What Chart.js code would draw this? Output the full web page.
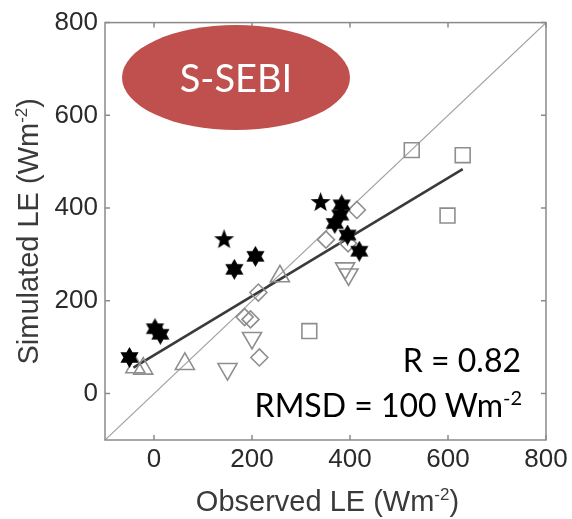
<!DOCTYPE html>
<html>
<head>
<meta charset="utf-8">
<script src="https://cdn.jsdelivr.net/npm/chart.js@4.4.0/dist/chart.umd.min.js"></script>
<style>
html, body { margin: 0; padding: 0; background: #fff; }
#wrap { width: 572px; height: 519px; }
</style>
</head>
<body>
<div id="wrap"><canvas id="ScatterChart"></canvas></div>
<script>
var xTicks = [0, 200, 400, 600, 800];
var yTicks = [0, 200, 400, 600, 800];

// 1:1 line and fitted line
var identityX = [-100, 800];
var identityY = [-100, 800];
var fitX = [-42, 630];
var fitY = [56, 484];

// markers
var hexX = [-50, 2, 13, 164, 207, 383, 380, 369, 395, 419];
var hexY = [78, 140, 128, 268, 296, 407, 385, 367, 342, 307];
var pentX = [143, 340];
var pentY = [332, 412];
var triUpX = [-38, -22, 63, 257];
var triUpY = [57, 54, 64, 253];
var triDownX = [150, 200, 390, 397];
var triDownY = [53, 120, 270, 257];
var diamondX = [185, 197, 215, 213, 351, 396, 414];
var diamondY = [165, 160, 78, 218, 332, 324, 396];
var squareX = [317, 526, 599, 630];
var squareY = [135, 525, 384, 514];

function pts(xs, ys) {
    return xs.map(function (x, i) { return {x: x, y: ys[i]}; });
}

function starImage(n, size, inner) {
    var c = document.createElement('canvas');
    c.width = size;
    c.height = size;
    var g = c.getContext('2d');
    var r = size / 2;
    g.beginPath();
    for (var i = 0; i < n * 2; i++) {
        var a = -Math.PI / 2 + i * Math.PI / n;
        var rr = (i % 2 == 0) ? r : r * inner;
        g.lineTo(r + rr * Math.cos(a), r + rr * Math.sin(a));
    }
    g.closePath();
    g.fillStyle = '#000';
    g.fill();
    return c;
}

var hexStar = starImage(6, 21, 0.577);
var pentStar = starImage(5, 21, 0.42);

var grey = '#8e8e8e';

var data = {
    datasets: [
        {type: 'line', data: pts(identityX, identityY), borderColor: '#a2a2a2', borderWidth: 1.2, pointRadius: 0, order: 10},
        {type: 'line', data: pts(fitX, fitY), borderColor: '#3a3a3a', borderWidth: 2.6, pointRadius: 0, order: 9},
        {data: pts(triUpX, triUpY), pointStyle: 'triangle', pointRadius: 11, borderColor: grey, borderWidth: 1.6, backgroundColor: 'rgba(0,0,0,0)', order: 5},
        {data: pts(triDownX, triDownY), pointStyle: 'triangle', rotation: 180, pointRadius: 11, borderColor: grey, borderWidth: 1.6, backgroundColor: 'rgba(0,0,0,0)', order: 5},
        {data: pts(diamondX, diamondY), pointStyle: 'rectRot', pointRadius: 8.5, borderColor: grey, borderWidth: 1.6, backgroundColor: 'rgba(0,0,0,0)', order: 4},
        {data: pts(squareX, squareY), pointStyle: 'rect', pointRadius: 10.5, borderColor: grey, borderWidth: 1.6, backgroundColor: 'rgba(0,0,0,0)', order: 4},
        {data: pts(hexX, hexY), pointStyle: hexStar, order: 1},
        {data: pts(pentX, pentY), pointStyle: pentStar, order: 1}
    ]
};

function richText(ctx, parts, x, y, align) {
    var w = 0;
    parts.forEach(function (p) { ctx.font = p.font; w += ctx.measureText(p.t).width; });
    var cx = align == 'center' ? x - w / 2 : (align == 'right' ? x - w : x);
    ctx.textAlign = 'left';
    parts.forEach(function (p) {
        ctx.font = p.font;
        ctx.fillText(p.t, cx, y + (p.dy || 0));
        cx += ctx.measureText(p.t).width;
    });
}

var decorations = {
    id: 'decorations',
    afterDatasetsDraw: function (chart) {
        var ctx = chart.ctx;
        var a = chart.chartArea;
        var sx = chart.scales.x, sy = chart.scales.y;
        ctx.save();
        ctx.strokeStyle = '#8a8a8a';
        ctx.lineWidth = 1.5;
        ctx.strokeRect(a.left, a.top, a.right - a.left, a.bottom - a.top);
        ctx.beginPath();
        xTicks.forEach(function (v) {
            var px = sx.getPixelForValue(v);
            ctx.moveTo(px, a.bottom); ctx.lineTo(px, a.bottom - 5);
            ctx.moveTo(px, a.top); ctx.lineTo(px, a.top + 5);
        });
        yTicks.forEach(function (v) {
            var py = sy.getPixelForValue(v);
            ctx.moveTo(a.left, py); ctx.lineTo(a.left + 5, py);
            ctx.moveTo(a.right, py); ctx.lineTo(a.right - 5, py);
        });
        ctx.stroke();

        // axis titles
        ctx.fillStyle = '#3a3a3a';
        ctx.textBaseline = 'alphabetic';
        var f = '29px "Liberation Sans", Arial, sans-serif';
        var fs = '17px "Liberation Sans", Arial, sans-serif';
        richText(ctx, [{t: 'Observed LE (Wm', font: f}, {t: '-2', font: fs, dy: -11}, {t: ')', font: f}],
            (a.left + a.right) / 2 + 2, 511, 'center');
        ctx.save();
        ctx.translate(38, (a.top + a.bottom) / 2);
        ctx.rotate(-Math.PI / 2);
        richText(ctx, [{t: 'Simulated LE (Wm', font: f}, {t: '-2', font: fs, dy: -11}, {t: ')', font: f}],
            0, 0, 'center');
        ctx.restore();

        // method label
        ctx.fillStyle = '#c0504d';
        ctx.beginPath();
        ctx.ellipse(236, 77.5, 114, 52.5, 0, 0, Math.PI * 2);
        ctx.fill();
        ctx.fillStyle = '#ffffff';
        ctx.font = '38px Lato, "Open Sans", sans-serif';
        ctx.textAlign = 'center';
        ctx.fillText('S-SEBI', 236, 92);

        // statistics
        ctx.fillStyle = '#000000';
        var ff = '32px Lato, "Open Sans", sans-serif';
        var ffs = '20px Lato, "Open Sans", sans-serif';
        richText(ctx, [{t: 'R = 0.82', font: ff}], 521, 372, 'right');
        richText(ctx, [{t: 'RMSD = 100 Wm', font: ff}, {t: '-2', font: ffs, dy: -12}], 522, 417, 'right');
        ctx.restore();
    }
};

var tickFont = {family: '"Liberation Sans", Arial, sans-serif', size: 26};

var config = {
    type: 'scatter',
    data: data,
    options: {
        responsive: true,
        maintainAspectRatio: false,
        animation: false,
        devicePixelRatio: 1,
        layout: {padding: {top: 20, right: 26, left: 0, bottom: 0}},
        plugins: {legend: {display: false}, tooltip: {enabled: false}},
        scales: {
            x: {
                type: 'linear', min: -100, max: 800,
                grid: {display: false, drawTicks: false},
                border: {display: false},
                ticks: {font: tickFont, color: '#2a2a2a', padding: 4, maxRotation: 0},
                afterBuildTicks: function (s) { s.ticks = xTicks.map(function (v) { return {value: v}; }); },
                afterFit: function (s) { s.height = 79; }
            },
            y: {
                type: 'linear', min: -100, max: 800,
                grid: {display: false, drawTicks: false},
                border: {display: false},
                ticks: {font: tickFont, color: '#2a2a2a', padding: 7},
                afterBuildTicks: function (s) { s.ticks = yTicks.map(function (v) { return {value: v}; }); },
                afterFit: function (s) { s.width = 105; }
            }
        }
    },
    plugins: [decorations]
};

var scatterChart = new Chart(document.getElementById('ScatterChart'), config);
</script>
</body>
</html>
